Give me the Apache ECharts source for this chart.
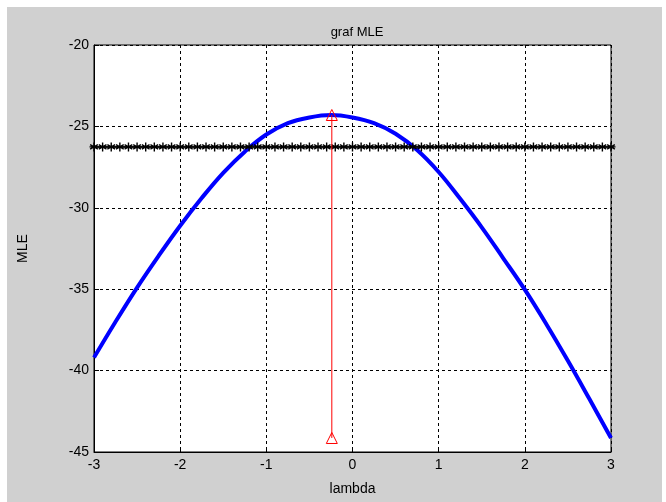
<!DOCTYPE html>
<html>
<head>
<meta charset="utf-8">
<script src="https://cdn.jsdelivr.net/npm/echarts@6/dist/echarts.min.js"></script>
<style>
	html, body { margin: 0; padding: 0; background: #ffffff; }
	#frame { position: absolute; left: 7px; top: 7px; width: 655px; height: 495px; background: #d0d0d0; }
	#chart { position: absolute; left: 0; top: 0; width: 666px; height: 502px; }
</style>
</head>
<body>
<div id="frame"></div>
<div id="chart"></div>
<script>
// profile log likelihood (lambda, MLE)
const lambdaVals = [-3, -2.75, -2.5, -2.25, -2, -1.75, -1.5, -1.25, -1, -0.75, -0.5, -0.25,
	0, 0.25, 0.5, 0.75, 1, 1.25, 1.5, 1.75, 2, 2.25, 2.5, 2.75, 3];
const mleVals = [-39.2, -37.0, -34.9, -32.95, -31.1, -29.4, -27.85, -26.55, -25.5, -24.8, -24.45, -24.3,
	-24.45, -24.8, -25.45, -26.45, -27.8, -29.45, -31.2, -33.1, -35.03, -37.15, -39.4, -41.75, -44.14];

// asterisk line (cut-off level) and the red marker at the maximum
const cutLevel = -26.26;
const cutStart = -3, cutStep = 0.1, cutCount = 61;
const lambdaHat = -0.24;
const markerTop = -24.3;
const markerBottom = -44.14;

const xTicks = [-3, -2, -1, 0, 1, 2, 3];
const yTicks = [-45, -40, -35, -30, -25, -20];

var curve = lambdaVals.map((x, i) => [x, mleVals[i]]);
var cutLine = [];
for (var i = 0; i < cutCount; i++) {
	cutLine.push([+(cutStart + i * cutStep).toFixed(2), cutLevel]);
}
var redLine = [[lambdaHat, markerTop], [lambdaHat, markerBottom]];

var font = '"Liberation Sans", Arial, sans-serif';
var chart = echarts.init(document.getElementById('chart'));

chart.setOption({
	backgroundColor: 'transparent',
	animation: false,
	title: {
		text: 'graf MLE',
		left: 352, top: 21, textAlign: 'center',
		textStyle: { fontFamily: font, fontSize: 13, fontWeight: 'normal', color: '#000' }
	},
	grid: {
		left: 94, top: 45, right: 55, bottom: 50,
		show: true, backgroundColor: '#ffffff', borderColor: '#000', borderWidth: 1
	},
	xAxis: {
		type: 'value', min: xTicks[0], max: xTicks[xTicks.length - 1], interval: 1,
		name: 'lambda', nameLocation: 'middle', nameGap: 30,
		nameTextStyle: { fontFamily: font, fontSize: 14, color: '#000' },
		axisLine: { show: true, onZero: false, lineStyle: { color: '#000' } },
		axisTick: { inside: true, length: 5, lineStyle: { color: '#000' } },
		axisLabel: { fontFamily: font, fontSize: 14, color: '#000', margin: 6 },
		splitLine: { show: true, lineStyle: { color: '#000', type: [3, 3], width: 1 } }
	},
	yAxis: {
		type: 'value', min: yTicks[0], max: yTicks[yTicks.length - 1], interval: 5,
		name: 'MLE', nameLocation: 'middle', nameGap: 64,
		nameTextStyle: { fontFamily: font, fontSize: 14, color: '#000' },
		axisLine: { show: true, onZero: false, lineStyle: { color: '#000' } },
		axisTick: { inside: true, length: 5, lineStyle: { color: '#000' } },
		axisLabel: { fontFamily: font, fontSize: 14, color: '#000', margin: 5 },
		splitLine: { show: true, lineStyle: { color: '#000', type: [3, 3], width: 1 } }
	},
	series: [
		{
			type: 'line', data: curve, smooth: 0.4, showSymbol: false,
			lineStyle: { color: '#0000ff', width: 4 }, z: 2
		},
		{
			type: 'line', data: cutLine, symbol: 'path://M0,-5L0,5M-4.3,-2.5L4.3,2.5M-4.3,2.5L4.3,-2.5M-5,0L5,0',
			symbolSize: 9, showAllSymbol: true, clip: false,
			itemStyle: { color: 'none', borderColor: '#000', borderWidth: 1.4 },
			lineStyle: { color: '#333', width: 2 }, z: 3
		},
		{
			type: 'line', data: redLine, symbol: 'triangle', symbolSize: 11,
			itemStyle: { color: 'rgba(255,255,255,0)', borderColor: '#ff0000', borderWidth: 1 },
			lineStyle: { color: '#ff0000', width: 1 }, z: 4
		}
	]
});
</script>
</body>
</html>
